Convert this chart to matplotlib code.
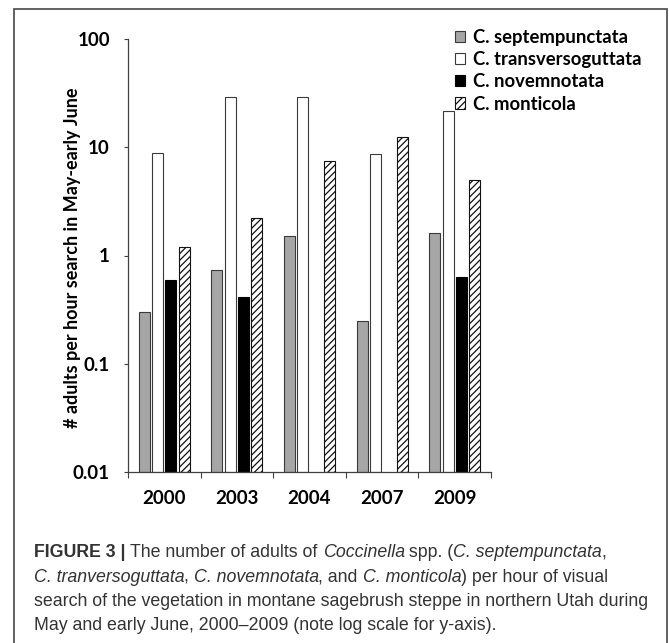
import numpy as np
import matplotlib
matplotlib.use("Agg")
import matplotlib.pyplot as plt
from matplotlib.patches import Rectangle, Patch

years = ["2000", "2003", "2004", "2007", "2009"]
series_names = ["C. septempunctata", "C. transversoguttata", "C. novemnotata", "C. monticola"]
septempunctata = [0.30, 0.74, 1.5, 0.25, 1.6]
transversoguttata = [8.9, 29.0, 29.0, 8.7, 21.5]
novemnotata = [0.60, 0.41, np.nan, np.nan, 0.63]
monticola = [1.2, 2.2, 7.5, 12.5, 5.0]
y_ticks = [0.01, 0.1, 1, 10, 100]
y_tick_labels = ["0.01", "0.1", "1", "10", "100"]
y_label = "# adults per hour search in May-early June"

W, H = 669, 643
plt.rcParams["hatch.linewidth"] = 0.9
plt.rcParams["hatch.color"] = "#111111"
fig = plt.figure(figsize=(W / 100, H / 100), dpi=100)

CH_FONT = ["Lato", "DejaVu Sans"]

ax = fig.add_axes([128 / W, 1 - 472 / H, (491 - 128) / W, (472 - 39) / H])
ax.set_yscale("log")
ax.set_ylim(0.01, 100)
ax.set_xlim(-0.5, len(years) - 0.5)

x = np.arange(len(years))
bw = 0.152
step = 0.183
styles = [
    dict(facecolor="#a6a6a6", edgecolor="#3a3a3a", hatch=None),
    dict(facecolor="white", edgecolor="#3a3a3a", hatch=None),
    dict(facecolor="black", edgecolor="black", hatch=None),
    dict(facecolor="white", edgecolor="#111111", hatch="/////"),
]
data = [septempunctata, transversoguttata, novemnotata, monticola]
for i, (vals, st) in enumerate(zip(data, styles)):
    v = np.array(vals, dtype=float)
    ax.bar(x + (i - 1.5) * step, v - 0.01, bottom=0.01, width=bw,
           facecolor=st["facecolor"], edgecolor=st["edgecolor"],
           hatch=st["hatch"], linewidth=0.8, zorder=2)

for s in ["top", "right"]:
    ax.spines[s].set_visible(False)
for s in ["left", "bottom"]:
    ax.spines[s].set_color("#404040")
    ax.spines[s].set_linewidth(0.9)

ax.set_yticks(y_ticks)
ax.set_yticklabels(y_tick_labels)
ax.yaxis.set_minor_locator(matplotlib.ticker.NullLocator())
ax.tick_params(axis="y", which="major", length=3, width=0.8, color="#404040", pad=10,
               labelsize=13.5)
ax.set_xticks(x)
ax.set_xticklabels(years)
ax.set_xticks(np.arange(len(years) + 1) - 0.5, minor=True)
ax.tick_params(axis="x", which="major", length=0, pad=13, labelsize=13.5)
ax.tick_params(axis="x", which="minor", length=4, width=0.8, color="#404040")
for lab in ax.get_xticklabels() + ax.get_yticklabels():
    lab.set_fontfamily(CH_FONT)
    lab.set_fontweight("bold")
    lab.set_color("black")

fig.text(73 / W, 1 - 258 / H, y_label, rotation=90, ha="center", va="center",
         fontsize=13.0, fontweight="bold", family=CH_FONT)

handles = [Patch(facecolor=st["facecolor"], edgecolor=st["edgecolor"],
                 hatch=st["hatch"], linewidth=0.8) for st in styles]
leg = fig.legend(handles, series_names, loc="upper left",
                 bbox_to_anchor=(455 / W, 1 - 29 / H), frameon=False,
                 handlelength=0.55, handleheight=0.55, handletextpad=0.4,
                 labelspacing=0.28, borderpad=0, borderaxespad=0,
                 prop=dict(family=CH_FONT, weight="bold", size=13.3))

# outer frame
fig.add_artist(Rectangle((14 / W, -0.05), (667 - 14) / W, 1 - 9 / H + 0.05,
                         transform=fig.transFigure, fill=False,
                         edgecolor="#555555", linewidth=1.3))

# caption with mixed styles
CAP_FONT = ["Liberation Sans", "DejaVu Sans"]
cap_size = 12.8
cap_color = "#333333"
lines = [
    [("FIGURE 3 | ", "bold", "normal"), ("The number of adults of ", "normal", "normal"),
     ("Coccinella", "normal", "italic"), (" spp. (", "normal", "normal"),
     ("C. septempunctata", "normal", "italic"), (",", "normal", "normal")],
    [("C. tranversoguttata", "normal", "italic"), (", ", "normal", "normal"),
     ("C. novemnotata", "normal", "italic"), (", and ", "normal", "normal"),
     ("C. monticola", "normal", "italic"), (") per hour of visual", "normal", "normal")],
    [("search of the vegetation in montane sagebrush steppe in northern Utah during", "normal", "normal")],
    [("May and early June, 2000\u20132009 (note log scale for y-axis).", "normal", "normal")],
]
baseline_y = [557, 582, 606, 630]
renderer = fig.canvas.get_renderer()
for runs, ly in zip(lines, baseline_y):
    xpos = 34.0
    for txt, wt, st in runs:
        t = fig.text(xpos / W, 1 - ly / H, txt, ha="left", va="baseline",
                     fontsize=cap_size, fontweight=wt, fontstyle=st,
                     family=CAP_FONT, color=cap_color)
        bb = t.get_window_extent(renderer=renderer)
        xpos += bb.width - (0.6 if st == "italic" else 0.0)

fig.savefig("out.png", dpi=100)
